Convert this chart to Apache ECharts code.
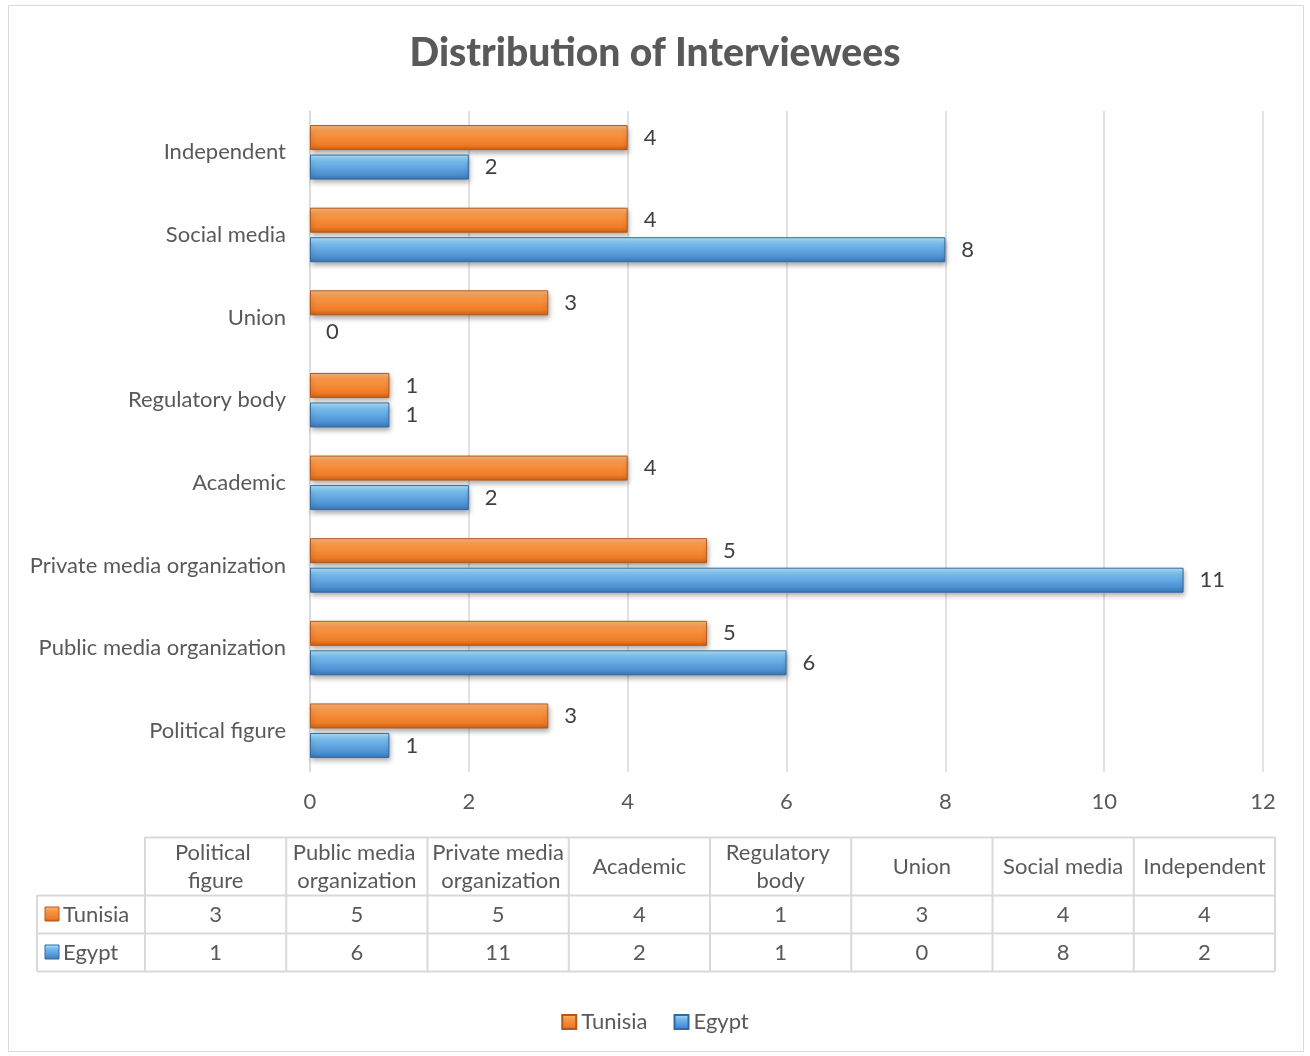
<!DOCTYPE html>
<html>
<head>
<meta charset="utf-8">
<style>
  html, body { margin: 0; padding: 0; background: #fff; }
  #chart { width: 1310px; height: 1056px; }
</style>
<script src="https://cdn.jsdelivr.net/npm/echarts@6/dist/echarts.min.js"></script>
</head>
<body>
<div id="chart"></div>
<script>
// Interviewee counts by type of organisation
const categories = ['Political figure', 'Public media organization', 'Private media organization',
  'Academic', 'Regulatory body', 'Union', 'Social media', 'Independent'];
const tunisia = [3, 5, 5, 4, 1, 3, 4, 4];
const egypt = [1, 6, 11, 2, 1, 0, 8, 2];
const xTicks = [0, 2, 4, 6, 8, 10, 12];

const FONT = 'Lato';
const FS = 22;
const TXT = '#595959';
const LINE = '#d9d9d9';

const orangeFill = new echarts.graphic.LinearGradient(0, 0, 0, 1, [
  { offset: 0, color: '#fcb978' },
  { offset: 0.3, color: '#f99645' },
  { offset: 0.8, color: '#ee7b25' },
  { offset: 1, color: '#c85e17' }
]);
const blueFill = new echarts.graphic.LinearGradient(0, 0, 0, 1, [
  { offset: 0, color: '#b3e6ff' },
  { offset: 0.3, color: '#72b9ec' },
  { offset: 0.8, color: '#4b8fd2' },
  { offset: 1, color: '#3a74b0' }
]);

function barItem(fill, edge) {
  return {
    color: fill,
    borderColor: edge,
    borderWidth: 1,
    shadowBlur: 5,
    shadowOffsetX: 1,
    shadowOffsetY: 3,
    shadowColor: 'rgba(0,0,0,0.35)'
  };
}

// zero-length bars get no outline so nothing is drawn for them
function barData(values) {
  return values.map(v => v === 0 ? { value: v, itemStyle: { borderWidth: 0, shadowBlur: 0, shadowOffsetX: 0, shadowOffsetY: 0 } } : v);
}

// Data table underneath the plot
const tbl = {
  x0: 37, x1: 145, colW: 141.25,
  yHead: 837, yRow1: 895, yRow2: 933, yEnd: 971
};
const tblRight = tbl.x1 + tbl.colW * categories.length;
const graphics = [];

// chart frame
graphics.push({
  type: 'rect', shape: { x: 8.5, y: 5.5, width: 1295, height: 1046 },
  style: { fill: 'none', stroke: LINE, lineWidth: 1 }, silent: true
});

function hLine(x1, x2, y) {
  graphics.push({ type: 'line', shape: { x1, y1: y + 0.5, x2, y2: y + 0.5 },
    style: { stroke: LINE, lineWidth: 2 }, silent: true });
}
function vLine(x, y1, y2) {
  graphics.push({ type: 'line', shape: { x1: x, y1, x2: x, y2 },
    style: { stroke: LINE, lineWidth: 2 }, silent: true });
}
hLine(tbl.x1, tblRight, tbl.yHead);
hLine(tbl.x0, tblRight, tbl.yRow1);
hLine(tbl.x0, tblRight, tbl.yRow2);
hLine(tbl.x0, tblRight, tbl.yEnd);
vLine(tbl.x0, tbl.yRow1, tbl.yEnd);
for (let i = 0; i <= categories.length; i++) {
  vLine(tbl.x1 + tbl.colW * i, tbl.yHead, tbl.yEnd);
}

function cellText(text, cx, cy, opts) {
  graphics.push({
    type: 'text', silent: true,
    style: Object.assign({
      text, x: cx, y: cy, align: 'center', verticalAlign: 'middle',
      font: FS + 'px ' + FONT, fill: TXT, lineHeight: 28
    }, opts || {})
  });
}

categories.forEach((c, i) => {
  const cx = tbl.x1 + tbl.colW * (i + 0.5);
  cellText(c, cx, (tbl.yHead + tbl.yRow1) / 2 + 1, { width: 134, overflow: 'break' });
  cellText(String(tunisia[i]), cx, (tbl.yRow1 + tbl.yRow2) / 2 + 1);
  cellText(String(egypt[i]), cx, (tbl.yRow2 + tbl.yEnd) / 2 + 1);
});

[[ 'Tunisia', orangeFill, '#b3581a', tbl.yRow1, tbl.yRow2 ],
 [ 'Egypt', blueFill, '#35699e', tbl.yRow2, tbl.yEnd ]].forEach(([name, fill, edge, ya, yb]) => {
  const cy = (ya + yb) / 2;
  graphics.push({ type: 'rect', shape: { x: 45, y: cy - 7, width: 14, height: 14 },
    style: { fill, stroke: edge, lineWidth: 1 }, silent: true });
  graphics.push({ type: 'text', silent: true,
    style: { text: name, x: 63, y: cy + 1, align: 'left', verticalAlign: 'middle',
      font: FS + 'px ' + FONT, fill: TXT } });
});

const labelStyle = { show: true, position: 'right', distance: 16, fontFamily: FONT, fontSize: FS, color: '#404040' };

const chart = echarts.init(document.getElementById('chart'), null, { renderer: 'canvas' });
chart.setOption({
  backgroundColor: '#fff',
  animation: false,
  textStyle: { fontFamily: FONT },
  title: {
    text: 'Distribution of Interviewees',
    left: 'center', top: 29,
    textStyle: { fontFamily: FONT, fontSize: 39, fontWeight: 900, color: TXT }
  },
  legend: {
    bottom: 18, left: 'center',
    data: ['Tunisia', 'Egypt'],
    icon: 'rect', itemWidth: 14, itemHeight: 14, itemGap: 26,
    textStyle: { fontFamily: FONT, fontSize: FS, color: TXT, padding: [0, 0, 0, 0] }
  },
  grid: { left: 310, right: 47, top: 111, height: 661, containLabel: false },
  xAxis: {
    type: 'value', min: xTicks[0], max: xTicks[xTicks.length - 1], interval: 2,
    axisLine: { show: false }, axisTick: { show: false },
    splitLine: { show: true, lineStyle: { color: LINE, width: 1.5 } },
    axisLabel: { fontFamily: FONT, fontSize: FS, color: TXT, margin: 19 }
  },
  yAxis: {
    type: 'category', data: categories,
    axisLine: { show: true, lineStyle: { color: LINE, width: 1.5 } },
    axisTick: { show: false },
    axisLabel: { fontFamily: FONT, fontSize: FS, color: TXT, margin: 24 }
  },
  series: [
    {
      name: 'Tunisia', type: 'bar', data: barData(tunisia),
      barWidth: 25, barGap: '18%',
      itemStyle: barItem(orangeFill, '#b3581a'),
      label: labelStyle
    },
    {
      name: 'Egypt', type: 'bar', data: barData(egypt),
      barWidth: 25, barGap: '18%',
      itemStyle: barItem(blueFill, '#35699e'),
      label: labelStyle
    }
  ],
  graphic: graphics
});
</script>
</body>
</html>
